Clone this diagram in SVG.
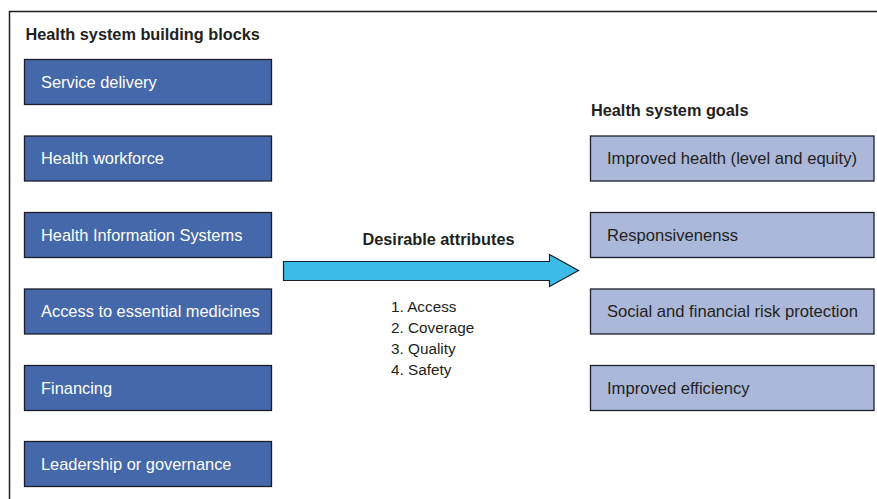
<svg xmlns="http://www.w3.org/2000/svg" width="877" height="499" viewBox="0 0 877 499">
<style>
text{font-family:"Liberation Sans",Arial,sans-serif}
.hd{font-size:16.3px;font-weight:bold;fill:#231f20}
.bb rect{fill:#4468a9;stroke:#1c1f2a;stroke-width:1.3}
.bb text{fill:#ffffff;font-size:16.4px}
.gl rect{fill:#abb8d9;stroke:#1c1f2a;stroke-width:1.3}
.gl text{fill:#231f20;font-size:16.6px}
.lst{font-size:15.3px;fill:#231f20}
</style>
<rect width="877" height="499" fill="#ffffff"/>
<path d="M9.5 499 V11.5 H877" fill="none" stroke="#231f20" stroke-width="1.5"/>
<text class="hd" x="25.5" y="40">Health system building blocks</text>
<text class="hd" x="591" y="115.5">Health system goals</text>
<g id="n-service" class="bb"><rect x="24.5" y="59.5" width="247" height="45"/><text x="41" y="87.5">Service delivery</text></g>
<g id="n-workforce" class="bb"><rect x="24.5" y="136" width="247" height="45"/><text x="41" y="164">Health workforce</text></g>
<g id="n-his" class="bb"><rect x="24.5" y="212.5" width="247" height="45"/><text x="41" y="240.5">Health Information Systems</text></g>
<g id="n-medicines" class="bb"><rect x="24.5" y="289" width="247" height="45"/><text x="41" y="317">Access to essential medicines</text></g>
<g id="n-financing" class="bb"><rect x="24.5" y="365.5" width="247" height="45"/><text x="41" y="393.5">Financing</text></g>
<g id="n-leadership" class="bb"><rect x="24.5" y="441.5" width="247" height="45"/><text x="41" y="469.5">Leadership or governance</text></g>
<g id="n-health" class="gl"><rect x="590.5" y="136" width="283.5" height="45"/><text x="607" y="164">Improved health (level and equity)</text></g>
<g id="n-responsiveness" class="gl"><rect x="590.5" y="212.5" width="283.5" height="45"/><text x="607" y="240.5">Responsivenenss</text></g>
<g id="n-risk" class="gl"><rect x="590.5" y="289" width="283.5" height="45"/><text x="607" y="317">Social and financial risk protection</text></g>
<g id="n-efficiency" class="gl"><rect x="590.5" y="365.5" width="283.5" height="45"/><text x="607" y="393.5">Improved efficiency</text></g>
<g id="connectors">
<path d="M283.5 261.5 H549.5 V254.5 L578.5 270.5 L549.5 286.5 V280.5 H283.5 Z" fill="#3bbce6" stroke="#1c1f2a" stroke-width="1.2"/>
<text class="hd" x="438.5" y="244.5" text-anchor="middle" font-size="16.6">Desirable attributes</text>
<text class="lst" x="391" y="311.5">1. Access</text>
<text class="lst" x="391" y="332.5">2. Coverage</text>
<text class="lst" x="391" y="353.5">3. Quality</text>
<text class="lst" x="391" y="374.5">4. Safety</text>
</g>
</svg>
